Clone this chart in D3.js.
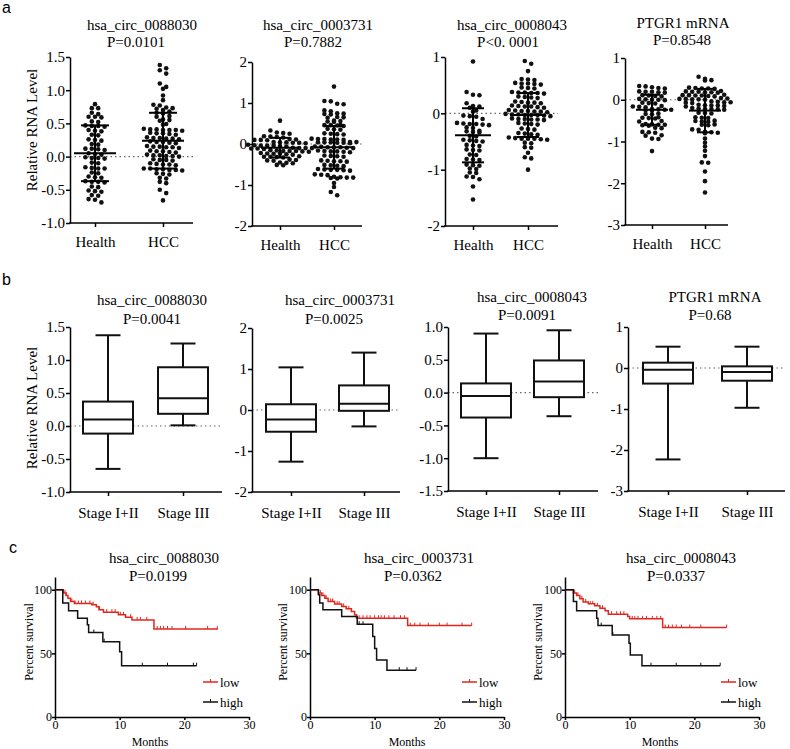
<!DOCTYPE html>
<html><head><meta charset="utf-8">
<script src="https://cdn.jsdelivr.net/npm/d3@7"></script>
<style>
body{margin:0;background:#fff}
</style></head><body><svg id="chart" width="790" height="749"></svg>
<script>
// ---------------- DATA ----------------
const geneTitles = ["hsa_circ_0088030","hsa_circ_0003731","hsa_circ_0008043","PTGR1 mRNA"];
const dotPvals = ["P=0.0101","P=0.7882","P<0. 0001","P=0.8548"];
const dotGroups = ["Health","HCC"];

const a1Health = [0.79,0.73,0.73,0.66,0.64,0.60,0.60,0.59,0.52,0.53,0.46,0.46,0.45,0.47,0.39,0.40,0.38,0.32,0.33,
  0.25,0.26,0.24,0.18,0.19,0.11,0.12,0.10,0.12,0.04,0.05,0.03,-0.02,-0.03,-0.01,-0.02,-0.10,-0.09,
  -0.17,-0.18,-0.16,-0.18,-0.25,-0.24,-0.31,-0.30,-0.32,-0.38,-0.37,-0.39,-0.38,-0.45,-0.46,
  -0.52,-0.53,-0.51,-0.59,-0.58,-0.64,-0.65,-0.69];
const a1HCC = [1.38,1.33,1.30,1.25,1.10,1.05,1.02,0.92,0.85,0.78,0.77,0.73,0.72,0.74,0.70,0.68,0.66,0.65,0.60,0.61,
  0.55,0.54,0.56,0.48,0.49,0.41,0.40,0.40,0.42,0.39,0.41,0.40,0.35,0.34,0.36,0.33,0.35,
  0.28,0.27,0.29,0.28,0.26,0.27,0.22,0.21,0.20,0.22,0.23,0.15,0.14,0.16,0.15,0.13,0.14,
  0.08,0.07,0.09,0.08,0.06,0.02,0.01,0.00,0.02,0.01,0.03,-0.05,-0.04,-0.06,-0.05,
  -0.12,-0.11,-0.13,-0.12,-0.10,-0.18,-0.19,-0.20,-0.18,-0.21,-0.19,-0.20,-0.26,-0.25,-0.27,
  -0.33,-0.32,-0.38,-0.40,-0.50,-0.55,-0.66];
const a2Health = [0.57,0.33,0.27,0.25,0.28,0.18,0.17,0.19,0.16,0.10,0.11,0.09,0.12,0.10,
  0.03,0.04,0.02,0.03,0.05,0.04,-0.04,-0.03,-0.05,-0.04,-0.02,-0.06,-0.04,
  -0.10,-0.11,-0.09,-0.12,-0.10,-0.11,-0.10,-0.17,-0.16,-0.18,-0.17,-0.15,-0.19,-0.17,
  -0.24,-0.23,-0.25,-0.24,-0.22,-0.26,-0.31,-0.30,-0.32,-0.31,-0.33,
  -0.39,-0.38,-0.40,-0.41,-0.46,-0.45,-0.47,-0.52,-0.51];
const a2HCC = [1.40,1.05,1.04,0.97,0.98,0.80,0.82,0.73,0.74,0.72,0.75,0.65,0.66,0.64,
  0.55,0.56,0.54,0.57,0.46,0.45,0.44,0.47,0.46,0.36,0.37,0.35,0.24,0.25,0.23,0.26,
  0.12,0.11,0.13,0.12,0.10,0.11,0.04,0.03,0.05,0.04,0.02,0.05,0.03,0.04,
  -0.08,-0.07,-0.09,-0.08,-0.06,-0.10,-0.08,-0.18,-0.17,-0.19,-0.18,-0.20,-0.16,
  -0.30,-0.29,-0.31,-0.28,-0.42,-0.41,-0.43,-0.40,-0.42,-0.52,-0.53,-0.51,-0.54,
  -0.63,-0.62,-0.64,-0.61,-0.63,-0.65,-0.75,-0.74,-0.76,-0.82,-0.81,-0.83,-0.80,-0.82,-0.84,
  -0.95,-1.05,-1.17,-1.25];
const a3Health = [0.92,0.38,0.33,0.32,0.18,0.13,0.10,0.12,0.05,0.03,-0.05,-0.04,-0.06,-0.10,
  -0.19,-0.18,-0.20,-0.19,-0.17,-0.21,-0.26,-0.25,-0.32,-0.33,-0.31,-0.34,-0.40,-0.41,
  -0.48,-0.47,-0.49,-0.50,-0.57,-0.56,-0.58,-0.65,-0.64,-0.66,-0.74,-0.73,
  -0.82,-0.81,-0.83,-0.92,-0.91,-0.93,-0.98,-0.99,-1.05,-1.06,-1.12,-1.13,-1.17,-1.30,-1.53];
const a3HCC = [0.93,0.88,0.75,0.60,0.59,0.61,0.53,0.52,0.54,0.51,0.53,0.45,0.44,0.46,
  0.37,0.36,0.38,0.35,0.37,0.36,0.28,0.27,0.29,0.30,0.19,0.20,0.18,0.21,0.19,
  0.12,0.11,0.13,0.10,0.12,0.14,0.04,0.03,0.05,0.04,0.02,0.06,0.03,
  -0.03,-0.02,-0.04,-0.03,-0.01,-0.05,-0.03,-0.02,-0.10,-0.11,-0.09,-0.12,-0.10,-0.11,
  -0.18,-0.19,-0.17,-0.20,-0.28,-0.27,-0.29,-0.36,-0.35,-0.37,-0.38,
  -0.45,-0.44,-0.46,-0.45,-0.47,-0.43,-0.45,-0.53,-0.52,-0.60,-0.61,-0.70,-0.78,-0.80,-1.00];
const a4Health = [0.33,0.32,0.28,0.30,0.27,0.19,0.18,0.20,0.17,0.19,0.09,0.10,0.08,0.11,
  0.00,0.01,-0.01,0.00,0.02,-0.08,-0.07,-0.09,-0.17,-0.16,-0.18,-0.15,
  -0.24,-0.23,-0.25,-0.22,-0.24,-0.26,-0.34,-0.33,-0.35,-0.44,-0.43,-0.45,-0.42,-0.52,-0.51,
  -0.60,-0.59,-0.61,-0.58,-0.60,-0.62,-0.68,-0.67,-0.78,-0.79,-0.77,-0.85,-0.86,-0.94,-0.93,-1.23];
const a4HCC = [0.55,0.50,0.46,0.47,0.27,0.28,0.26,0.29,0.27,0.19,0.18,0.20,0.17,0.19,0.21,0.18,
  0.10,0.11,0.09,0.12,0.10,0.08,0.11,0.02,0.01,0.03,0.00,0.02,0.04,0.01,
  -0.06,-0.05,-0.07,-0.04,-0.06,-0.08,-0.14,-0.13,-0.15,-0.12,-0.14,-0.16,
  -0.22,-0.21,-0.23,-0.20,-0.24,-0.22,-0.32,-0.31,-0.33,-0.43,-0.42,-0.44,
  -0.52,-0.51,-0.53,-0.50,-0.60,-0.59,-0.61,-0.72,-0.71,-0.78,-0.79,-0.77,-0.80,
  -0.93,-1.03,-1.12,-1.22,-1.35,-1.50,-1.51,-1.72,-1.95,-2.22];
const dotValues = [[a1Health,a1HCC],[a2Health,a2HCC],[a3Health,a3HCC],[a4Health,a4HCC]];
const dotMeans = [[0.05,0.24],[-0.09,-0.08],[-0.39,-0.03],[-0.24,-0.26]];
const dotSDs   = [[0.42,0.42],[0.24,0.52],[0.48,0.39],[0.36,0.52]];
const dotDomains = [[-1,1.5],[-2,2],[-2,1],[-3,1]];
const dotTicks = [[-1,-0.5,0,0.5,1,1.5],[-2,-1,0,1,2],[-2,-1,0,1],[-3,-2,-1,0,1]];

const boxPvals = ["P=0.0041","P=0.0025","P=0.0091","P=0.68"];
const boxGroups = ["Stage I+II","Stage III"];
// [min, q1, median, q3, max]
const boxStats = [
  [[-0.65,-0.115,0.10,0.37,1.375],[0.01,0.185,0.42,0.89,1.25]],
  [[-1.26,-0.53,-0.23,0.14,1.04],[-0.40,-0.02,0.15,0.60,1.40]],
  [[-1.00,-0.38,-0.05,0.14,0.90],[-0.36,-0.07,0.17,0.49,0.95]],
  [[-2.23,-0.38,-0.04,0.13,0.52],[-0.97,-0.31,-0.10,0.04,0.52]]
];
const boxDomains = [[-1,1.5],[-2,2],[-1.5,1],[-3,1]];
const boxTicks = [[-1,-0.5,0,0.5,1,1.5],[-2,-1,0,1,2],[-1.5,-1,-0.5,0,0.5,1],[-3,-2,-1,0,1]];

const kmTitles = ["hsa_circ_0088030","hsa_circ_0003731","hsa_circ_0008043"];
const kmPvals = ["P=0.0199","P=0.0362","P=0.0337"];
const kmSeries = ["low","high"];
const kmXTicks = [0,10,20,30];
const kmYTicks = [0,50,100];
// step curves: [month, percent survival]; last point = end of follow-up
const km1Low = [[0,100],[1.3,97.4],[1.7,95.5],[2.0,93.4],[2.4,90.8],[3.0,89.2],[5.7,88.2],[6.4,86.6],[6.8,84.2],[7.5,82.4],[9.8,80.3],[10.9,78.4],[11.9,76.3],[15.3,69.2],[25.2,69.2]];
const km1High = [[0,100],[1.2,89.5],[2.1,83.4],[3.5,77.6],[5.0,72.4],[5.2,66.3],[7.4,59.2],[10.0,51.3],[10.3,40.3],[21.9,40.3]];
const km2Low = [[0,100],[1.3,97.4],[1.8,95.5],[2.3,93.4],[2.8,90.8],[3.8,88.7],[4.9,86.8],[5.6,85.0],[6.4,82.9],[6.9,80.3],[7.2,77.6],[15.1,71.8],[25.0,71.8]];
const km2High = [[0,100],[1.3,96.0],[1.5,89.5],[2.0,84.2],[4.9,78.9],[7.3,72.9],[9.7,63.2],[10.0,53.9],[10.3,44.7],[11.9,36.8],[16.4,36.8]];
const km3Low = [[0,100],[1.3,97.4],[1.8,95.5],[2.3,92.9],[2.8,90.3],[3.6,88.9],[4.6,87.4],[5.4,85.5],[6.2,83.4],[6.7,80.8],[9.7,78.9],[10.0,77.1],[15.1,70.3],[25.0,70.3]];
const km3High = [[0,100],[1.3,90.8],[1.8,83.4],[4.9,77.6],[5.1,71.8],[7.3,64.5],[9.9,57.9],[10.1,48.7],[11.9,40.3],[24.0,40.3]];
const km1LowCens = [1.55,1.8,2.6,3.1,3.6,4.1,4.7,5.4,5.9,6.9,8.0,8.8,9.3,10.1,10.6,11.7,12.7,13.2,14.2,15.8,16.3,16.8,17.4,18.1,20.2,23.6,25.1];
const km1HighCens = [6.0,7.6,13.5,17.4,21.4,21.9];
const km2LowCens = [1.6,2.0,2.5,3.2,3.5,4.2,4.5,5.2,6.0,7.6,8.2,8.8,9.3,10.0,10.6,11.0,11.5,12.2,13.0,14.0,14.6,15.5,16.2,17.0,18.3,20.0,21.2,23.5,25.0];
const km2HighCens = [7.6,8.2,13.8,15.0,16.4];
const km3LowCens = [1.5,2.0,2.6,3.2,3.9,4.3,5.0,5.8,7.2,8.0,8.6,9.1,10.4,10.8,11.3,12.0,12.6,13.5,14.2,14.8,15.5,16.0,16.6,17.2,18.0,19.3,21.0,25.0];
const km3HighCens = [5.6,7.4,13.3,17.2,21.0,24.0];
const kmCurves = [[km1Low,km1High],[km2Low,km2High],[km3Low,km3High]];
const kmCens = [[km1LowCens,km1HighCens],[km2LowCens,km2HighCens],[km3LowCens,km3HighCens]];

// ---------------- DRAW ----------------
const SERIF = "'Liberation Serif','Times New Roman',Times,serif";
const SANS = "'Liberation Sans',Arial,sans-serif";
const svg = d3.select("#chart");
svg.append("rect").attr("width",790).attr("height",749).attr("fill","#fff");
const RED = "#e1261f";
const fmt1 = d => d.toFixed(1);
const fmt0 = d => String(d);

function styleAxis(g, size){
  g.attr("font-size", null).attr("font-family", null);
  g.selectAll("text").style("font-family", SERIF).style("font-size", size+"px").attr("fill","#000");
  g.selectAll("path,line").attr("stroke","#000").attr("stroke-width",1.5);
}
function letter(t,x,y){
  svg.append("text").attr("x",x).attr("y",y).text(t)
    .style("font-family",SANS).style("font-size","16px").attr("fill","#000");
}
function text(t,x,y,size,anchor){
  return svg.append("text").attr("x",x).attr("y",y).attr("text-anchor",anchor||"middle")
    .style("font-family",SERIF).style("font-size",size+"px").attr("fill","#000").text(t);
}
function yLabel(t,x,y,size){
  svg.append("text").attr("transform",`translate(${x},${y}) rotate(-90)`)
    .attr("text-anchor","middle").style("font-family",SERIF).style("font-size",size+"px").attr("fill","#000").text(t);
}

// common axes for rows a and b
function catAxes(L, domain, ticks, groups, dec){
  const y = d3.scaleLinear().domain(domain).range([L.yBot, L.yTop]);
  const x = d3.scalePoint().domain(groups).range(L.xs);
  svg.append("line").attr("x1",L.ax).attr("x2",L.xEnd).attr("y1",y(0)).attr("y2",y(0))
    .attr("stroke","#666").attr("stroke-width",1.2).attr("stroke-dasharray","1.5,3");
  const gy = svg.append("g").attr("transform",`translate(${L.ax},0)`)
    .call(d3.axisLeft(y).tickValues(ticks).tickFormat(dec?fmt1:fmt0).tickSize(4).tickPadding(1).tickSizeOuter(0));
  styleAxis(gy, 15);
  const gx = svg.append("g").attr("transform",`translate(0,${L.yBot})`)
    .call(d3.axisBottom(x).tickSize(4).tickPadding(L.xpad).tickSizeOuter(0));
  gx.select(".domain").remove();
  styleAxis(gx, 15);
  svg.append("line").attr("x1",L.ax-0.75).attr("x2",L.xEnd).attr("y1",L.yBot).attr("y2",L.yBot)
    .attr("stroke","#000").attr("stroke-width",1.5);
  return {x,y};
}

// ---- row a: scatter dot plots ----
const dotLayout = [
  {ax:70, xEnd:193, yTop:57, yBot:223, xs:[95,163], tx:142, px:136, ty:30, py:47, meanW:42, capW:28, dec:true},
  {ax:252,xEnd:362, yTop:62, yBot:226, xs:[280,334], tx:318, px:313, ty:30, py:47, meanW:38, capW:20, dec:false},
  {ax:445,xEnd:558, yTop:57, yBot:226, xs:[473,528], tx:512, px:508, ty:30, py:47, meanW:36, capW:22, dec:false},
  {ax:625,xEnd:728, yTop:58, yBot:225, xs:[652,705], tx:683, px:682, ty:28, py:45, meanW:32, capW:16, dec:false}
];
function swarm(values, y, cx, rowH, sp){
  const pts = values.map(v => ({v, py:y(v)})).sort((a,b)=>a.py-b.py);
  const rows = []; let cur = null;
  pts.forEach(p => {
    if(!cur || p.py - cur.start > rowH){ cur = {start:p.py, pts:[]}; rows.push(cur); }
    cur.pts.push(p);
  });
  rows.forEach(r => {
    const k = r.pts.length;
    r.pts.forEach((p,i) => { p.px = cx + (i-(k-1)/2)*sp; });
  });
  return pts;
}
dotLayout.forEach((L,i) => {
  L.xpad = 9;
  const {x,y} = catAxes(L, dotDomains[i], dotTicks[i], dotGroups, L.dec);
  text(geneTitles[i], L.tx, L.ty, 15);
  text(dotPvals[i], L.px, L.py, 15);
  dotGroups.forEach((g,j) => {
    const pts = swarm(dotValues[i][j], y, x(g), 3.6, 6.4);
    svg.append("g").selectAll("circle").data(pts).join("circle")
      .attr("cx",d=>d.px).attr("cy",d=>d.py).attr("r",2.3).attr("fill","#111");
    const m = dotMeans[i][j], s = dotSDs[i][j], cx = x(g);
    const gl = svg.append("g").attr("stroke","#000").attr("stroke-width",2);
    gl.append("line").attr("x1",cx-L.meanW/2).attr("x2",cx+L.meanW/2).attr("y1",y(m)).attr("y2",y(m));
    gl.append("line").attr("x1",cx).attr("x2",cx).attr("y1",y(m+s)).attr("y2",y(m-s));
    [m+s,m-s].forEach(v => gl.append("line").attr("x1",cx-L.capW/2).attr("x2",cx+L.capW/2).attr("y1",y(v)).attr("y2",y(v)));
  });
});
yLabel("Relative RNA Level", 37, 130, 15);
letter("a", 2, 13);

// ---- row b: box plots ----
const boxLayout = [
  {ax:70, xEnd:222, yTop:327, yBot:492, xs:[108,183], tx:152, px:152, ty:305, py:324, dec:true},
  {ax:252,xEnd:400, yTop:328, yBot:492, xs:[291,364], tx:340, px:334, ty:305, py:324, dec:false},
  {ax:448,xEnd:598, yTop:327, yBot:491, xs:[486,559], tx:532, px:527, ty:302, py:320, dec:true},
  {ax:628,xEnd:785, yTop:327, yBot:491, xs:[668,747], tx:715, px:710, ty:302, py:320, dec:false}
];
boxLayout.forEach((L,i) => {
  L.xpad = 11;
  const {x,y} = catAxes(L, boxDomains[i], boxTicks[i], boxGroups, L.dec);
  text(geneTitles[i], L.tx, L.ty, 15);
  text(boxPvals[i], L.px, L.py, 15);
  boxGroups.forEach((g,j) => {
    const [mn,q1,md,q3,mx] = boxStats[i][j], cx = x(g), bw = 50, cw = 25;
    const gb = svg.append("g").attr("stroke","#111").attr("stroke-width",2).attr("fill","#fff");
    gb.append("line").attr("x1",cx).attr("x2",cx).attr("y1",y(mx)).attr("y2",y(mn));
    gb.append("rect").attr("x",cx-bw/2).attr("width",bw).attr("y",y(q3)).attr("height",y(q1)-y(q3));
    gb.append("line").attr("x1",cx-bw/2).attr("x2",cx+bw/2).attr("y1",y(md)).attr("y2",y(md));
    [mn,mx].forEach(v => gb.append("line").attr("x1",cx-cw/2).attr("x2",cx+cw/2).attr("y1",y(v)).attr("y2",y(v)));
  });
});
yLabel("Relative RNA Level", 37, 408, 15);
letter("b", 2, 285);

// ---- row c: Kaplan-Meier ----
const kmLayout = [
  {x0:55,  tx:164, px:158, lx:203, lab:33,  mx:150},
  {x0:310, tx:419, px:413, lx:462, lab:287, mx:407},
  {x0:565, tx:681, px:676, lx:721, lab:542, mx:660}
];
function survAt(curve, t){
  let s = curve[0][1];
  curve.forEach(p => { if(p[0] <= t) s = p[1]; });
  return s;
}
kmLayout.forEach((L,i) => {
  const x = d3.scaleLinear().domain([0,30]).range([L.x0, L.x0+194]);
  const y = d3.scaleLinear().domain([0,110]).range([717, 577]);
  const gy = svg.append("g").attr("transform",`translate(${L.x0},0)`)
    .call(d3.axisLeft(y).tickValues(kmYTicks).tickSize(3).tickPadding(0).tickSizeOuter(0));
  styleAxis(gy, 12);
  const gx = svg.append("g").attr("transform",`translate(0,717)`)
    .call(d3.axisBottom(x).tickValues(kmXTicks).tickSize(3).tickPadding(0).tickSizeOuter(0));
  styleAxis(gx, 12);
  text(kmTitles[i], L.tx, 563, 15);
  text(kmPvals[i], L.px, 581, 15);
  text("Months", L.mx, 746, 12);
  yLabel("Percent survival", L.lab, 642, 12);
  const line = d3.line().x(d=>x(d[0])).y(d=>y(d[1])).curve(d3.curveStepAfter);
  kmSeries.forEach((s,j) => {
    const col = j===0 ? RED : "#111";
    const curve = kmCurves[i][j];
    svg.append("path").attr("d", line(curve)).attr("fill","none").attr("stroke",col).attr("stroke-width",1.5);
    svg.append("g").selectAll("line").data(kmCens[i][j]).join("line")
      .attr("x1",d=>x(d)).attr("x2",d=>x(d))
      .attr("y1",d=>y(survAt(curve,d))).attr("y2",d=>y(survAt(curve,d))-3)
      .attr("stroke",col).attr("stroke-width",1);
    const ly = 682 + j*20;
    svg.append("line").attr("x1",L.lx).attr("x2",L.lx+15).attr("y1",ly).attr("y2",ly).attr("stroke",col).attr("stroke-width",1.5);
    svg.append("line").attr("x1",L.lx+7.5).attr("x2",L.lx+7.5).attr("y1",ly).attr("y2",ly-3).attr("stroke",col).attr("stroke-width",1);
    text(s, L.lx+17, ly+4.5, 13, "start");
  });
});
letter("c", 9, 553);
</script></body></html>
